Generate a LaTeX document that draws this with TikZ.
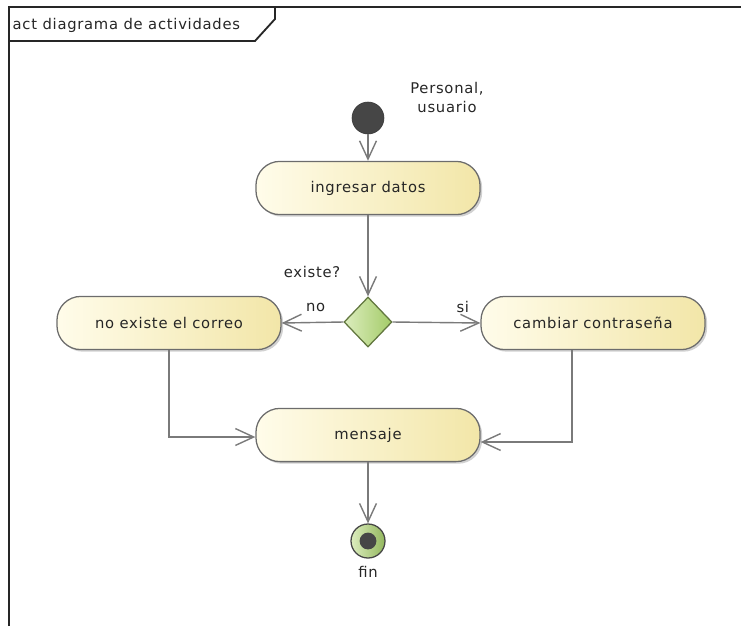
\documentclass[tikz,border=0pt]{standalone}
\usepackage{fontspec}
\setmainfont{DejaVu Sans}[LetterSpace=5]
\usepackage{tikz}
\usetikzlibrary{arrows.meta, positioning, calc, shapes.geometric, shadows}
\definecolor{actleft}{HTML}{FFFCEA}
\definecolor{actright}{HTML}{F2E6A8}
\definecolor{actborder}{HTML}{6C6C6C}
\definecolor{decleft}{HTML}{DCEDBE}
\definecolor{decright}{HTML}{A3CB68}
\definecolor{decborder}{HTML}{62773F}
\definecolor{darkdot}{HTML}{464646}
\definecolor{flowgray}{HTML}{7A7A7A}
\definecolor{textgray}{HTML}{262626}
\tikzset{
	actbox/.style={draw=actborder, line width=0.9pt, rounded corners=17pt, minimum width=5.6cm, minimum height=1.33cm, left color=actleft, right color=actright, text=textgray, font=\fontsize{10.5}{13.5}\selectfont, drop shadow={shadow xshift=1.5pt, shadow yshift=-1.5pt, opacity=0.18, fill=black}},
	decbox/.style={diamond, draw=decborder, line width=0.9pt, minimum width=1.2cm, minimum height=1.25cm, inner sep=0pt, left color=decleft, right color=decright},
	flowarr/.style={-{Straight Barb[length=13pt, width=12pt]}, draw=flowgray, line width=1pt},
	lbl/.style={text=textgray, font=\fontsize{10.5}{13.5}\selectfont, inner sep=1pt},
}

\begin{document}
\begin{tikzpicture}[
				x=0.025cm, y=-0.025cm,
				frameline/.style={draw=black!85, line width=1.3pt},
				]
				\useasboundingbox (0,0) rectangle (741,626);
				% frame and tab
				\draw[frameline] (9,626) -- (9,7) -- (741,7);
				\draw[frameline] (9,41) -- (255,41) -- (275,19) -- (275,7);
				\node[lbl, anchor=west] (title) at (11,25) {act diagrama de actividades};
				% start
				\node[circle, draw=darkdot!80!black, fill=darkdot, minimum size=0.8cm, inner sep=0pt] (start) at (368,118) {};
				\node[lbl, align=center] (actor) at (447,97) {Personal,\\usuario};
				% actions
				\node[actbox] (ing) at (368,188) {ingresar datos};
				\node[decbox] (dec) at (368,322) {};
				\node[lbl] (q) at (312,272) {existe?};
				\node[actbox] (nox) at (169,323) {no existe el correo};
				\node[actbox] (cam) at (593,323) {cambiar contraseña};
				\node[actbox] (msg) at (368,435) {mensaje};
				% end
				\node[circle, draw=darkdot, line width=0.9pt, left color=decleft, right color=decright!90!black, minimum size=0.85cm, inner sep=0pt] (fin) at (368,541) {};
				\node[circle, fill=darkdot, minimum size=0.42cm, inner sep=0pt] (findot) at (fin) {};
				\node[lbl] (finlbl) at (368,572) {fin};
				% flows
				\draw[flowarr] (start) -- (ing);
				\draw[flowarr] (ing) -- (dec);
				\draw[flowarr] (dec.west) -- (nox.east) node[lbl, pos=0.45, above=6pt] {no};
				\draw[flowarr] (dec.east) -- (cam.west) node[lbl, pos=0.8, above=6pt] {si};
				\draw[flowarr] (nox.south) |- ($(msg.west)+(0,2)$);
				\draw[flowarr] ($(cam.south)+(-21,0)$) |- ($(msg.east)+(0,7)$);
				\draw[flowarr] (msg) -- (fin);
			\end{tikzpicture}
\end{document}
